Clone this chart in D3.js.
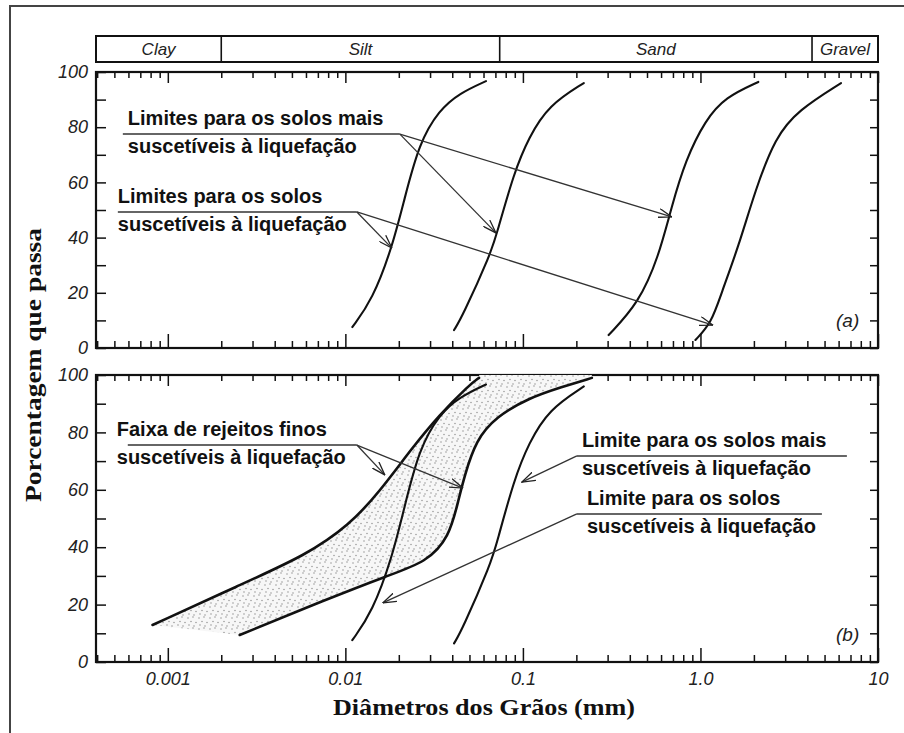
<!DOCTYPE html>
<html>
<head>
<meta charset="utf-8">
<script src="https://cdn.jsdelivr.net/npm/d3@7"></script>
<style>
  body { margin: 0; background: #fff; }
  svg { display: block; }
  .tick text { font-family: "Liberation Sans", Arial, sans-serif; font-style: italic; font-size: 18px; fill: #222; }
  .tick line { stroke: #111; stroke-width: 1.5; }
  .note { font-family: "Liberation Sans", Arial, sans-serif; font-weight: bold; font-size: 20px; fill: #111; }
  .title { font-family: "Liberation Serif", "Times New Roman", serif; font-weight: bold; font-size: 24px; fill: #111; }
  .hand { font-family: "Liberation Sans", Arial, sans-serif; font-style: italic; fill: #222; }
</style>
</head>
<body>
<svg id="chart" width="904" height="733"></svg>
<script>
// grain size axis (mm, log) and percent passing
const xDomain = [0.000394, 10];
const xDecades = [0.001, 0.01, 0.1, 1, 10];
const xDecadeLabels = ["0.001", "0.01", "0.1", "1.0", "10"];
const yTickValues = [0, 10, 20, 30, 40, 50, 60, 70, 80, 90, 100];
const yLabels = [0, 20, 40, 60, 80, 100];

const classNames = ["Clay", "Silt", "Sand", "Gravel"];
const classLimits = [0.002, 0.074, 4.25];

// panel (a) boundaries: [diameter mm, % passing]
const susceptibleLeft = [[0.01094, 7.6], [0.01419, 17.4], [0.01837, 36.6], [0.02143, 53.6], [0.02606, 74.3], [0.03373, 86.2], [0.0442, 92.4], [0.06194, 96.7]];
const mostLeft = [[0.04095, 6.5], [0.04543, 11.2], [0.0661, 34.4], [0.07145, 41.7], [0.08895, 63.4], [0.1081, 76.4], [0.14, 88.0], [0.2203, 96.0]];
const mostRight = [[0.304, 4.7], [0.449, 16.3], [0.581, 33.0], [0.687, 51.1], [0.824, 68.1], [1.066, 82.6], [1.381, 90.9], [2.118, 96.4]];
const susceptibleRight = [[0.937, 2.9], [1.153, 9.1], [1.312, 19.9], [1.635, 36.6], [2.036, 57.2], [2.64, 76.4], [3.553, 86.2], [6.19, 96.0]];

// panel (b) fine tailings band
const finesUpper = [[0.00082, 12.9], [0.00254, 26.8], [0.00604, 37.3], [0.01053, 47.7], [0.01552, 59.2], [0.02377, 74.6], [0.03373, 86.0], [0.0498, 96.5], [0.0566, 99.0]];
const finesLower = [[0.00254, 9.4], [0.00781, 21.8], [0.01766, 30.3], [0.0285, 34.8], [0.0384, 43.2], [0.0436, 57.0], [0.0467, 64.5], [0.0545, 77.4], [0.0705, 85.4], [0.108, 92.0], [0.1656, 95.8], [0.2445, 99.0]];

const notesA = [
  { lines: ["Limites para os solos mais", "suscetíveis à liquefação"], from: 0.000558, to: 0.02028, level: 77.5, origin: 0.02028, dx: 5, tips: [[0.0705, 41.7], [0.690, 47.5]] },
  { lines: ["Limites para os solos", "suscetíveis à liquefação"], from: 0.000523, to: 0.01161, level: 49.3, origin: 0.01161, dx: 0, tips: [[0.01828, 36.2], [1.175, 8.3]] }
];
const notesB = [
  { lines: ["Faixa de rejeitos finos", "suscetíveis à liquefação"], from: 0.000595, to: 0.01161, level: 75.6, origin: 0.01161, dx: -11, tips: [[0.01669, 65.2], [0.0459, 60.6]] },
  { lines: ["Limite para os solos mais", "suscetíveis à liquefação"], from: 0.2014, to: 6.68, level: 71.8, origin: 0.2014, dx: 5, tips: [[0.0986, 62.7]] },
  { lines: ["Limite para os solos", "suscetíveis à liquefação"], from: 0.2014, to: 4.83, level: 51.6, origin: 0.2014, dx: 10, tips: [[0.01625, 20.6]] }
];

const svg = d3.select("#chart");
const x = d3.scaleLog().domain(xDomain).range([96, 878]);
const yA = d3.scaleLinear().domain([0, 100]).range([348, 72]);
const yB = d3.scaleLinear().domain([0, 100]).range([662, 375]);
const [left, right] = x.range();

const defs = svg.append("defs");
defs.append("marker")
  .attr("id", "arrow")
  .attr("viewBox", "0 0 14 10")
  .attr("refX", 13.5).attr("refY", 5)
  .attr("markerWidth", 14).attr("markerHeight", 10)
  .attr("markerUnits", "userSpaceOnUse")
  .attr("orient", "auto")
  .append("path")
  .attr("d", "M0,0.5L13.5,5L0,9.5")
  .attr("fill", "none").attr("stroke", "#222").attr("stroke-width", 1.3);

const stipple = defs.append("pattern")
  .attr("id", "stipple")
  .attr("width", 11).attr("height", 11)
  .attr("patternUnits", "userSpaceOnUse");
stipple.append("rect").attr("width", 11).attr("height", 11).attr("fill", "#f7f7f7");
[[1, 2], [6, 1], [4, 5.5], [9, 6.5], [2, 9], [7, 10]].forEach(([cx, cy]) => {
  stipple.append("circle").attr("cx", cx).attr("cy", cy).attr("r", 0.7).attr("fill", "#888");
});

// outer page frame
svg.append("path")
  .attr("d", "M10,733V6H904")
  .attr("fill", "none").attr("stroke", "#444").attr("stroke-width", 2);

// soil class band
const header = svg.append("g");
const bounds = [xDomain[0], ...classLimits, xDomain[1]];
header.append("rect")
  .attr("x", left).attr("y", 36)
  .attr("width", right - left).attr("height", 26)
  .attr("fill", "none").attr("stroke", "#111").attr("stroke-width", 2);
header.selectAll("line")
  .data(classLimits)
  .join("line")
  .attr("x1", d => x(d)).attr("x2", d => x(d))
  .attr("y1", 36).attr("y2", 62)
  .attr("stroke", "#111").attr("stroke-width", 1.6);
header.selectAll("text")
  .data(classNames)
  .join("text")
  .attr("class", "hand")
  .attr("font-size", 17)
  .attr("text-anchor", "middle")
  .attr("x", (d, i) => (x(bounds[i]) + x(bounds[i + 1])) / 2)
  .attr("y", 55)
  .text(d => d);

const isDecade = v => Math.abs(Math.log10(v) - Math.round(Math.log10(v))) < 1e-9;
const minorTicks = x.ticks().filter(v => !isDecade(v));

function drawPanel(y, tag, withLabels) {
  const g = svg.append("g");
  const [bottom, top] = y.range();
  const noDomain = sel => sel.select(".domain").remove();

  g.append("g").attr("transform", `translate(0,${bottom})`)
    .call(d3.axisBottom(x).tickValues(minorTicks).tickSize(-7).tickFormat("")).call(noDomain);
  g.append("g").attr("transform", `translate(0,${bottom})`)
    .call(d3.axisBottom(x).tickValues(xDecades).tickSize(-14).tickPadding(10)
      .tickFormat((d, i) => withLabels ? xDecadeLabels[i] : "")).call(noDomain);
  g.append("g").attr("transform", `translate(0,${top})`)
    .call(d3.axisTop(x).tickValues(minorTicks).tickSize(-6).tickFormat("")).call(noDomain);
  g.append("g").attr("transform", `translate(0,${top})`)
    .call(d3.axisTop(x).tickValues(xDecades).tickSize(-11).tickFormat("")).call(noDomain);
  g.append("g").attr("transform", `translate(${left},0)`)
    .call(d3.axisLeft(y).tickValues(yTickValues).tickSize(-10).tickPadding(8)
      .tickFormat(d => yLabels.includes(d) ? d : "")).call(noDomain);
  g.append("g").attr("transform", `translate(${right},0)`)
    .call(d3.axisRight(y).tickValues(yTickValues).tickSize(-8).tickFormat("")).call(noDomain);

  g.append("rect")
    .attr("x", left).attr("y", top)
    .attr("width", right - left).attr("height", bottom - top)
    .attr("fill", "none").attr("stroke", "#111").attr("stroke-width", 2.2);

  g.append("text")
    .attr("class", "hand")
    .attr("font-size", 19)
    .attr("x", right - 42).attr("y", bottom - 21)
    .text(tag);
  return g;
}

// smooth B-spline through the read points (ends pinned)
const curveLine = y => d3.line().x(d => x(d[0])).y(d => y(d[1])).curve(d3.curveBasis);

function drawCurves(g, y, series, width) {
  g.selectAll(null)
    .data(series)
    .join("path")
    .attr("d", curveLine(y))
    .attr("fill", "none").attr("stroke", "#111")
    .attr("stroke-width", width).attr("stroke-linecap", "round");
}

function drawNotes(g, y, notes) {
  notes.forEach(n => {
    const ly = y(n.level);
    g.append("line")
      .attr("x1", x(n.from)).attr("x2", x(n.to))
      .attr("y1", ly).attr("y2", ly)
      .attr("stroke", "#333").attr("stroke-width", 1.5);
    n.tips.forEach(t => {
      g.append("line")
        .attr("x1", x(n.origin)).attr("y1", ly)
        .attr("x2", x(t[0])).attr("y2", y(t[1]))
        .attr("stroke", "#333").attr("stroke-width", 1.3)
        .attr("marker-end", "url(#arrow)");
    });
    g.append("text").attr("class", "note")
      .attr("x", x(n.from) + n.dx).attr("y", ly - 9).text(n.lines[0]);
    g.append("text").attr("class", "note")
      .attr("x", x(n.from) + n.dx).attr("y", ly + 19).text(n.lines[1]);
  });
}

// panel (a)
const panelA = drawPanel(yA, "(a)", false);
drawCurves(panelA, yA, [susceptibleLeft, mostLeft, mostRight, susceptibleRight], 2.1);
drawNotes(panelA, yA, notesA);

// panel (b)
const panelB = drawPanel(yB, "(b)", true);
const bandLine = curveLine(yB);
const upperEnd = finesUpper[finesUpper.length - 1];
const lowerEnd = finesLower[finesLower.length - 1];
panelB.append("path")
  .attr("d", bandLine(finesUpper)
    + `L${x(upperEnd[0])},${yB(100)}L${x(lowerEnd[0])},${yB(100)}`
    + bandLine(finesLower.slice().reverse()).replace(/^M/, "L") + "Z")
  .attr("fill", "url(#stipple)");
drawCurves(panelB, yB, [finesUpper, finesLower], 2.6);
drawCurves(panelB, yB, [susceptibleLeft, mostLeft], 2.1);
drawNotes(panelB, yB, notesB);

// axis titles
svg.append("text").attr("class", "title")
  .attr("text-anchor", "middle")
  .attr("transform", "translate(41,365) rotate(-90)")
  .attr("textLength", 274).attr("lengthAdjust", "spacingAndGlyphs")
  .text("Porcentagem que passa");
svg.append("text").attr("class", "title")
  .attr("text-anchor", "middle")
  .attr("x", 484).attr("y", 715)
  .attr("textLength", 302).attr("lengthAdjust", "spacingAndGlyphs")
  .text("Diâmetros dos Grãos (mm)");
</script>
</body>
</html>
